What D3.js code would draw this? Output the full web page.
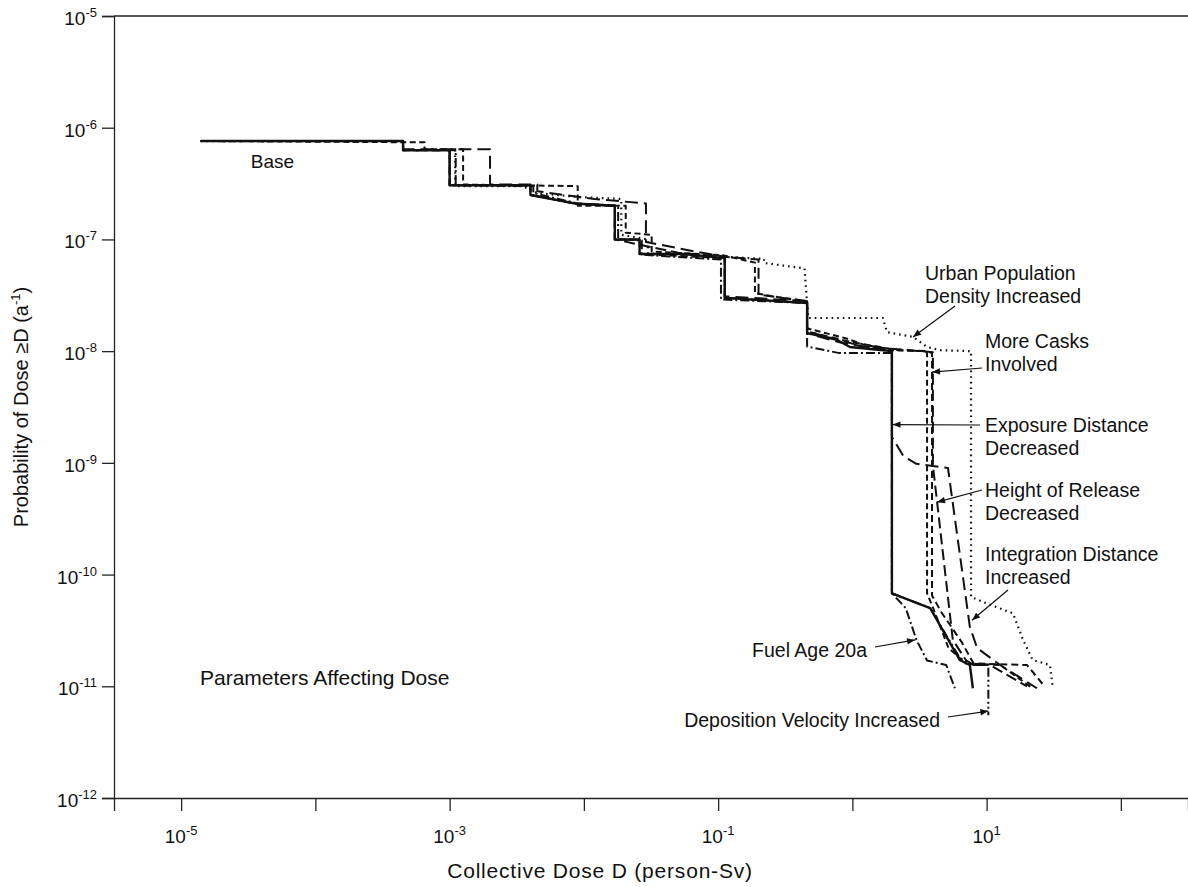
<!DOCTYPE html>
<html>
<head>
<meta charset="utf-8">
<script src="https://cdn.jsdelivr.net/npm/d3@7"></script>
<style>
  body { margin: 0; background: #fff; }
  text { font-family: "Liberation Sans", Arial, Helvetica, sans-serif; fill: #111; }
</style>
</head>
<body>
<div id="chart"></div>
<script>
// Set height and width for svg
let svgWidth = 1188;
let svgHeight = 887;

let margin = { top: 16, right: 0, bottom: 89, left: 114 };
let width = svgWidth - margin.left - margin.right;
let height = svgHeight - margin.top - margin.bottom;

// tick values
let xTicks = [1e-5, 1e-4, 1e-3, 1e-2, 1e-1, 1, 10, 100];
let xLabelTicks = [1e-5, 1e-3, 1e-1, 10];
let yTicks = [1e-12, 1e-11, 1e-10, 1e-9, 1e-8, 1e-7, 1e-6, 1e-5];

// curves: [collective dose (person-Sv), probability (1/a)]
let baseData = [
  [1.4e-5, 7.6e-7], [4.5e-4, 7.6e-7], [4.5e-4, 6.3e-7], [1.0e-3, 6.3e-7], [1.0e-3, 3.05e-7],
  [4.0e-3, 3.05e-7], [4.0e-3, 2.5e-7], [8.5e-3, 2.1e-7], [1.7e-2, 2.0e-7], [1.7e-2, 1.0e-7],
  [2.6e-2, 1.0e-7], [2.6e-2, 7.4e-8], [5.5e-2, 7.4e-8], [0.112, 6.8e-8], [0.112, 3.0e-8],
  [0.46, 2.7e-8], [0.46, 1.45e-8], [0.77, 1.26e-8], [0.96, 1.09e-8], [1.69, 1.02e-8],
  [1.97, 1.0e-8], [1.97, 6.8e-11], [3.8, 5.0e-11], [6.3, 1.72e-11], [7.5, 1.55e-11], [7.9, 9.6e-12]
];
let urbanData = [
  [1.4e-5, 7.6e-7], [4.5e-4, 7.6e-7], [4.5e-4, 6.3e-7], [1.1e-3, 6.3e-7], [1.1e-3, 3.0e-7],
  [3.5e-3, 3.0e-7], [4.5e-3, 2.6e-7], [9e-3, 2.4e-7], [1.9e-2, 2.3e-7], [1.9e-2, 1.1e-7],
  [3.0e-2, 1.0e-7], [3.0e-2, 7.5e-8], [0.11, 7.0e-8], [0.22, 6.7e-8], [0.22, 6.15e-8],
  [0.44, 5.5e-8], [0.46, 2.7e-8], [0.47, 1.98e-8], [1.69, 1.98e-8], [1.81, 1.48e-8],
  [2.83, 1.34e-8], [3.6, 1.09e-8], [4.5, 1.02e-8], [7.65, 1.0e-8], [7.65, 6.3e-11],
  [10.1, 5.5e-11], [15.7, 4.5e-11], [18.7, 2.6e-11], [22, 1.72e-11], [29.6, 1.55e-11], [31.2, 9.6e-12]
];
let casksData = [
  [1.4e-5, 7.6e-7], [6.5e-4, 7.4e-7], [6.5e-4, 6.4e-7], [1.26e-3, 6.4e-7], [1.26e-3, 3.1e-7],
  [9e-3, 3.0e-7], [9e-3, 2.0e-7], [2.05e-2, 2.0e-7], [2.05e-2, 1.15e-7], [3.2e-2, 1.1e-7],
  [3.2e-2, 7.8e-8], [0.11, 7.2e-8], [0.188, 6.2e-8], [0.188, 3.3e-8], [0.3, 3.0e-8],
  [0.46, 2.8e-8], [0.46, 1.6e-8], [0.9, 1.3e-8], [1.2, 1.15e-8], [1.97, 1.02e-8],
  [3.5, 1.0e-8], [3.6, 9.6e-9], [3.6, 6.8e-11], [4.0, 5.0e-11], [5.2, 2.2e-11],
  [7.0, 1.6e-11], [12.6, 1.55e-11], [22, 9.6e-12]
];
let exposureData = [
  [1.4e-5, 7.6e-7], [4.5e-4, 7.6e-7], [4.5e-4, 6.4e-7], [2.0e-3, 6.4e-7], [2.0e-3, 3.1e-7],
  [4.5e-3, 3.1e-7], [4.5e-3, 2.7e-7], [1.2e-2, 2.3e-7], [2.9e-2, 2.1e-7], [2.9e-2, 9.5e-8],
  [6e-2, 8.0e-8], [0.112, 7.0e-8], [0.112, 3.1e-8], [0.46, 2.8e-8], [0.46, 1.45e-8],
  [0.8, 1.2e-8], [1.97, 1.0e-8], [1.97, 1.7e-9], [2.4, 1.15e-9], [3.0, 9.8e-10],
  [5.15, 9.0e-10], [7.5, 3.4e-11], [8.5, 2.2e-11], [12.6, 1.55e-11], [23.7, 9.6e-12]
];
let heightData = [
  [1.4e-5, 7.6e-7], [4.5e-4, 7.6e-7], [4.5e-4, 6.3e-7], [1.0e-3, 6.3e-7], [1.0e-3, 3.05e-7],
  [4.0e-3, 3.05e-7], [4.0e-3, 2.5e-7], [8.5e-3, 2.1e-7], [1.7e-2, 2.0e-7], [1.7e-2, 1.0e-7],
  [5e-2, 7.6e-8], [0.2, 6.6e-8], [0.2, 3.2e-8], [0.46, 2.8e-8], [0.46, 1.5e-8],
  [1.2, 1.1e-8], [3.98, 9.8e-9], [3.98, 9.5e-10], [5.6, 2.6e-11], [7.0, 1.72e-11],
  [8.0, 1.55e-11], [10.6, 1.55e-11], [20, 1.0e-11]
];
let integrationData = [
  [1.4e-5, 7.6e-7], [4.5e-4, 7.6e-7], [4.5e-4, 6.3e-7], [1.0e-3, 6.3e-7], [1.0e-3, 3.05e-7],
  [4.0e-3, 3.05e-7], [4.0e-3, 2.5e-7], [8.5e-3, 2.1e-7], [1.7e-2, 2.0e-7], [1.7e-2, 1.0e-7],
  [2.6e-2, 1.0e-7], [2.6e-2, 7.4e-8], [0.112, 6.8e-8], [0.112, 3.0e-8], [0.46, 2.7e-8],
  [0.46, 1.5e-8], [1.0, 1.2e-8], [2.2, 1.02e-8], [3.6, 1.0e-8], [3.92, 9.6e-9],
  [3.92, 6.5e-11], [4.6, 4.6e-11], [6.5, 2.5e-11], [8.0, 1.6e-11], [20, 1.55e-11], [27, 1.0e-11]
];
let fuelData = [
  [1.4e-5, 7.6e-7], [4.5e-4, 7.6e-7], [4.5e-4, 6.3e-7], [1.11e-3, 6.3e-7], [1.11e-3, 3.05e-7],
  [4.2e-3, 3.0e-7], [4.2e-3, 2.6e-7], [9e-3, 2.1e-7], [1.8e-2, 2.0e-7], [1.8e-2, 1.0e-7],
  [2.7e-2, 9.8e-8], [2.7e-2, 7.3e-8], [0.105, 6.6e-8], [0.105, 2.9e-8], [0.46, 2.7e-8],
  [0.46, 1.1e-8], [0.8, 9.6e-9], [1.97, 9.6e-9], [1.97, 6.8e-11], [2.5, 5.0e-11],
  [3.0, 2.6e-11], [3.6, 1.7e-11], [5.0, 1.55e-11], [5.8, 9.6e-12]
];
let depositionData = [
  [1.97, 1.0e-8], [1.97, 6.8e-11], [3.8, 5.0e-11], [6.3, 1.8e-11], [8.0, 1.55e-11],
  [10.3, 1.55e-11], [10.3, 5.5e-12]
];

let series = [
  { data: urbanData, dash: "1.6,4", w: 2.2 },
  { data: casksData, dash: "6,3.5", w: 2 },
  { data: heightData, dash: "11,5", w: 2 },
  { data: integrationData, dash: "7,4", w: 2 },
  { data: exposureData, dash: "13,6", w: 2 },
  { data: fuelData, dash: "9,3,2,3", w: 2 },
  { data: depositionData, dash: "9,3,2,3,2,3", w: 2 },
  { data: baseData, dash: null, w: 2.4 }
];

// annotation labels: lines of text, pixel anchor, arrow target in data units
let labels = [
  { lines: ["Urban Population", "Density Increased"], x: 925, y: 280, from: [955, 306], to: [2.83, 1.34e-8] },
  { lines: ["More Casks", "Involved"], x: 985, y: 348, from: [982, 368], to: [3.92, 6.5e-9] },
  { lines: ["Exposure Distance", "Decreased"], x: 985, y: 432, from: [980, 425], to: [1.99, 2.2e-9] },
  { lines: ["Height of Release", "Decreased"], x: 985, y: 497, from: [982, 490], to: [4.27, 4.45e-10] },
  { lines: ["Integration Distance", "Increased"], x: 985, y: 561, from: [1008, 590], to: [7.78, 3.9e-11] }
];

let svg = d3
  .select("#chart")
  .append("svg")
  .attr("width", svgWidth)
  .attr("height", svgHeight);

svg.append("defs")
  .append("marker")
  .attr("id", "arrow")
  .attr("viewBox", "0 0 10 10")
  .attr("refX", 10)
  .attr("refY", 5)
  .attr("markerWidth", 10)
  .attr("markerHeight", 8)
  .attr("markerUnits", "userSpaceOnUse")
  .attr("orient", "auto")
  .append("path")
  .attr("d", "M0,1 L10,5 L0,9 Z")
  .attr("fill", "#111");

let chartGroup = svg
  .append("g")
  .attr("transform", `translate(${margin.left}, ${margin.top})`);

let xScale = d3.scaleLog().domain([Math.pow(10, -5.5), Math.pow(10, 2.5)]).range([0, width]);
let yScale = d3.scaleLog().domain([1e-12, 1e-5]).range([height, 0]);

// axes
let bottomAxis = d3.axisBottom(xScale).tickValues(xTicks).tickSize(13).tickFormat("");
let leftAxis = d3.axisLeft(yScale).tickValues(yTicks).tickSize(12).tickFormat("");

let xAxis = chartGroup.append("g")
  .attr("transform", `translate(0, ${height})`)
  .call(bottomAxis);
let yAxis = chartGroup.append("g").call(leftAxis);

chartGroup.selectAll(".domain").attr("stroke", "#222").attr("stroke-width", 1.3);
chartGroup.selectAll(".tick line").attr("stroke", "#222").attr("stroke-width", 1.3);

// top frame line
chartGroup.append("line")
  .attr("x1", 0).attr("x2", width)
  .attr("y1", 0).attr("y2", 0)
  .attr("stroke", "#222").attr("stroke-width", 1.3);

// power-of-ten tick labels
function powLabel(sel, d) {
  let e = Math.round(Math.log10(d));
  sel.append("tspan").text("10");
  sel.append("tspan").attr("dy", -8).attr("font-size", 13).text(e);
}

xLabelTicks.forEach(function(d) {
  let t = chartGroup.append("text")
    .attr("x", xScale(d))
    .attr("y", height + 45)
    .attr("text-anchor", "middle")
    .attr("font-size", 19);
  powLabel(t, d);
});

yTicks.forEach(function(d) {
  let t = chartGroup.append("text")
    .attr("x", -17)
    .attr("y", yScale(d) + 9)
    .attr("text-anchor", "end")
    .attr("font-size", 19);
  powLabel(t, d);
});

// axis titles
chartGroup.append("text")
  .attr("x", 486)
  .attr("y", height + 80)
  .attr("text-anchor", "middle")
  .attr("font-size", 21)
  .attr("letter-spacing", 0.8)
  .text("Collective Dose D (person-Sv)");

let yTitle = svg.append("text")
  .attr("transform", "translate(28, 407) rotate(-90)")
  .attr("text-anchor", "middle")
  .attr("font-size", 20);
yTitle.append("tspan").text("Probability of Dose \u2265D (a");
yTitle.append("tspan").attr("dy", -8).attr("font-size", 13).text("-1");
yTitle.append("tspan").attr("dy", 8).text(")");

// curves
let line = d3.line()
  .x(d => xScale(d[0]))
  .y(d => yScale(d[1]));

series.forEach(function(s) {
  chartGroup.append("path")
    .datum(s.data)
    .attr("d", line)
    .attr("fill", "none")
    .attr("stroke", "#111")
    .attr("stroke-width", s.w)
    .attr("stroke-linejoin", "round")
    .attr("stroke-dasharray", s.dash);
});

// annotations
labels.forEach(function(l) {
  l.lines.forEach(function(txt, i) {
    svg.append("text")
      .attr("x", l.x)
      .attr("y", l.y + i * 23)
      .attr("font-size", 19.5)
      .text(txt);
  });
  svg.append("line")
    .attr("x1", l.from[0]).attr("y1", l.from[1])
    .attr("x2", margin.left + xScale(l.to[0]))
    .attr("y2", margin.top + yScale(l.to[1]))
    .attr("stroke", "#111").attr("stroke-width", 1.2)
    .attr("marker-end", "url(#arrow)");
});

svg.append("text")
  .attr("x", margin.left + xScale(3.3e-5))
  .attr("y", margin.top + yScale(4.4e-7))
  .attr("font-size", 19)
  .text("Base");

svg.append("text")
  .attr("x", 867).attr("y", 657)
  .attr("text-anchor", "end")
  .attr("font-size", 19.5)
  .text("Fuel Age 20a");
svg.append("line")
  .attr("x1", 875).attr("y1", 647)
  .attr("x2", margin.left + xScale(2.93))
  .attr("y2", margin.top + yScale(2.6e-11))
  .attr("stroke", "#111").attr("stroke-width", 1.2)
  .attr("marker-end", "url(#arrow)");

svg.append("text")
  .attr("x", 940).attr("y", 727)
  .attr("text-anchor", "end")
  .attr("font-size", 19.5)
  .text("Deposition Velocity Increased");
svg.append("line")
  .attr("x1", 948).attr("y1", 717)
  .attr("x2", margin.left + xScale(10.3))
  .attr("y2", margin.top + yScale(6e-12))
  .attr("stroke", "#111").attr("stroke-width", 1.2)
  .attr("marker-end", "url(#arrow)");

svg.append("text")
  .attr("x", 200).attr("y", 685)
  .attr("font-size", 21)
  .text("Parameters Affecting Dose");
</script>
</body>
</html>
